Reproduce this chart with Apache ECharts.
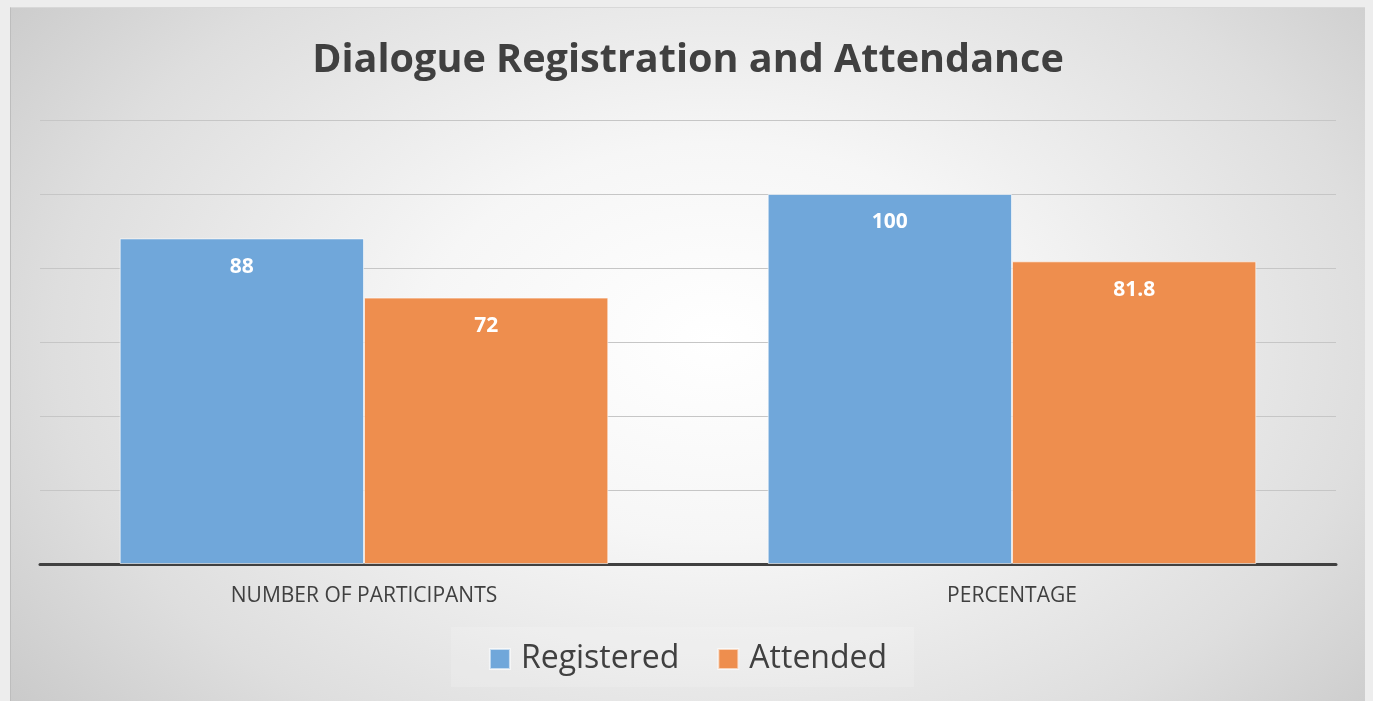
<!DOCTYPE html>
<html lang="en">
<head>
    <meta charset="UTF-8">
    <title>Dialogue Registration and Attendance</title>
    <script src="https://cdn.jsdelivr.net/npm/echarts@6.0.0/dist/echarts.min.js"></script>
    <style>
        html, body { margin: 0; padding: 0; background: #ededed; overflow: hidden; }
        #chart {
            position: absolute;
            left: 10px;
            top: 7px;
            width: 1355px;
            height: 694px;
            background: radial-gradient(ellipse 72% 95% at 52% 48%, #ffffff 0%, #f6f6f6 30%, #dedede 68%, #c2c2c2 100%);
            border-left: 1px solid #bdbdbd;
            border-top: 1px solid #d8d8d8;
            box-sizing: border-box;
        }
    </style>
</head>
<body>
<div id="chart"></div>
<script>
// 数据
const categories = ['NUMBER OF PARTICIPANTS', 'PERCENTAGE'];
const registered = [88, 100];
const attended = [72, 81.8];

const chart = echarts.init(document.getElementById('chart'));

const labelStyle = {
    show: true,
    position: 'insideTop',
    distance: 18,
    color: '#ffffff',
    fontSize: 21,
    fontWeight: 'bold',
    fontFamily: 'Open Sans'
};

chart.setOption({
    animation: false,
    title: {
        text: 'Dialogue Registration and Attendance',
        left: 'center',
        top: 33,
        padding: 0,
        textStyle: {
            fontFamily: 'Open Sans',
            fontSize: 39.6,
            fontWeight: 'bold',
            color: '#404040'
        }
    },
    legend: {
        data: ['Registered', 'Attended'],
        left: 'center',
        icon: 'rect',
        top: 619,
        itemWidth: 20,
        itemHeight: 20,
        itemGap: 38,
        padding: [16, 27, 12, 38],
        backgroundColor: 'rgba(255,255,255,0.15)',
        textStyle: {
            fontFamily: 'Open Sans',
            fontSize: 32,
            color: '#404040',
            padding: [0, 0, 0, 6]
        }
    },
    grid: { left: 29, right: 29, top: 112, bottom: 137 },
    xAxis: {
        type: 'category',
        data: categories,
        axisLine: { lineStyle: { color: '#404040', width: 3 } },
        axisTick: { show: false },
        axisLabel: {
            margin: 22,
            fontFamily: 'Open Sans',
            fontSize: 21,
            color: '#404040'
        }
    },
    yAxis: {
        type: 'value',
        min: 0,
        max: 120,
        interval: 20,
        axisLabel: { show: false },
        axisLine: { show: false },
        axisTick: { show: false },
        splitLine: { lineStyle: { color: '#c6c6c6', width: 1 } }
    },
    series: [
        {
            name: 'Registered',
            type: 'bar',
            data: registered,
            barGap: '0%',
            barCategoryGap: '24.6%',
            itemStyle: { color: '#70a7da', borderColor: 'rgba(255,255,255,0.6)', borderWidth: 1 },
            label: labelStyle
        },
        {
            name: 'Attended',
            type: 'bar',
            data: attended,
            itemStyle: { color: '#ee8e4e', borderColor: 'rgba(255,255,255,0.6)', borderWidth: 1 },
            label: labelStyle
        }
    ]
});

window.onresize = function() {
    chart.resize();
};
</script>
</body>
</html>
